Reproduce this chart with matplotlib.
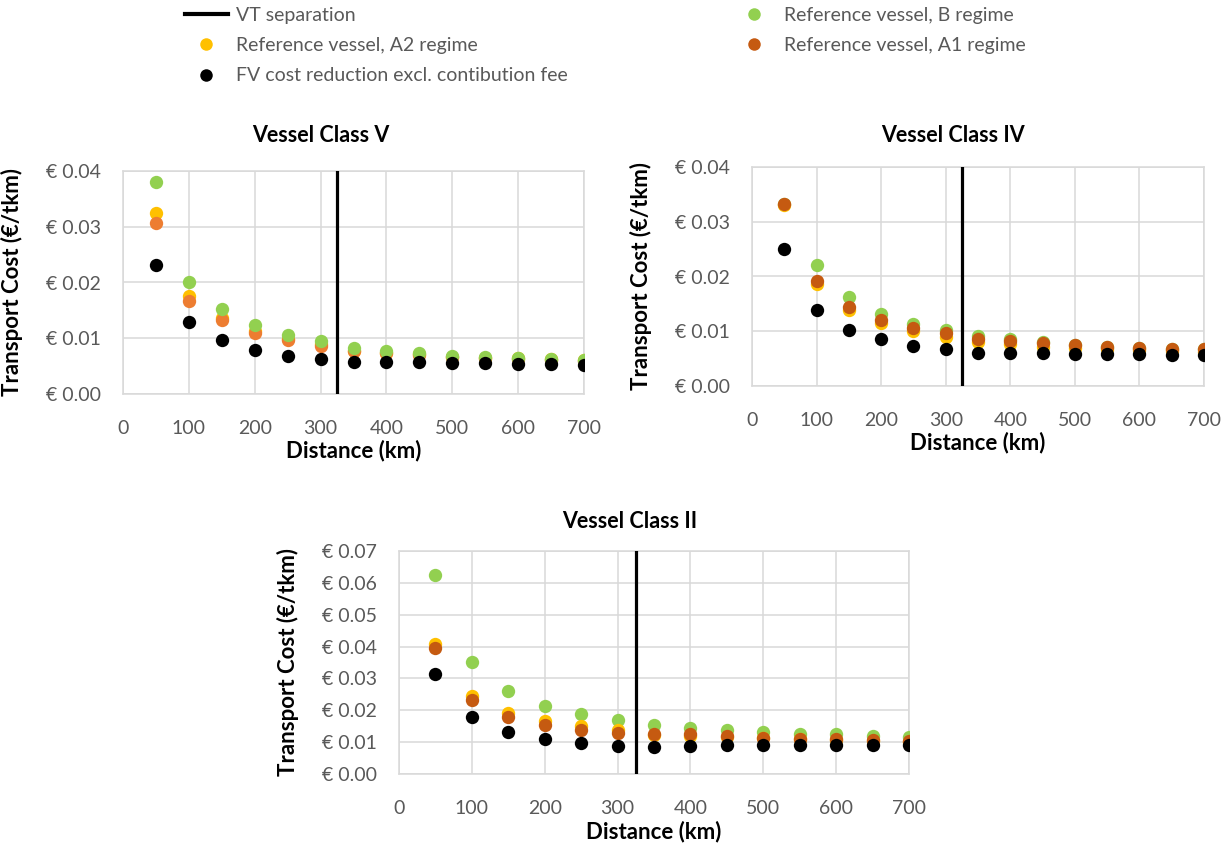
import numpy as np
import matplotlib.pyplot as plt
from matplotlib.lines import Line2D

plt.rcParams['font.family'] = ['Lato', 'DejaVu Sans']

distance = [50, 100, 150, 200, 250, 300, 350, 400, 450, 500, 550, 600, 650, 700]
vt_sep = 325

# Vessel Class V
v_b  = [0.0380, 0.0201, 0.0152, 0.0123, 0.0106, 0.0095, 0.0083, 0.0077, 0.0073, 0.0068, 0.0067, 0.0065, 0.0063, 0.0061]
v_a2 = [0.0324, 0.0176, 0.0137, 0.0113, 0.0098, 0.0089, 0.0078, 0.0074, 0.0071, 0.0067, 0.0065, 0.0064, 0.0062, 0.0061]
v_a1 = [0.0307, 0.0167, 0.0133, 0.0110, 0.0096, 0.0086, 0.0077, 0.0073, 0.0070, 0.0066, 0.0064, 0.0063, 0.0061, 0.0060]
v_fv = [0.0231, 0.0130, 0.0096, 0.0079, 0.0068, 0.0063, 0.0057, 0.0057, 0.0057, 0.0055, 0.0055, 0.0054, 0.0053, 0.0052]

# Vessel Class IV
iv_b  = [0.0332, 0.0221, 0.0162, 0.0132, 0.0114, 0.0103, 0.0091, 0.0085, 0.0080, 0.0074, 0.0072, 0.0070, 0.0068, 0.0067]
iv_a2 = [0.0330, 0.0187, 0.0138, 0.0115, 0.0100, 0.0090, 0.0080, 0.0076, 0.0072, 0.0069, 0.0067, 0.0065, 0.0064, 0.0063]
iv_a1 = [0.0332, 0.0191, 0.0144, 0.0120, 0.0106, 0.0097, 0.0086, 0.0082, 0.0078, 0.0074, 0.0072, 0.0070, 0.0068, 0.0067]
iv_fv = [0.0250, 0.0139, 0.0103, 0.0085, 0.0073, 0.0067, 0.0061, 0.0061, 0.0061, 0.0059, 0.0059, 0.0059, 0.0057, 0.0056]

# Vessel Class II
ii_b  = [0.0625, 0.0351, 0.0260, 0.0214, 0.0188, 0.0170, 0.0154, 0.0143, 0.0139, 0.0132, 0.0127, 0.0124, 0.0120, 0.0117]
ii_a2 = [0.0409, 0.0245, 0.0193, 0.0167, 0.0151, 0.0137, 0.0122, 0.0120, 0.0115, 0.0112, 0.0109, 0.0107, 0.0105, 0.0102]
ii_a1 = [0.0394, 0.0232, 0.0180, 0.0154, 0.0139, 0.0128, 0.0127, 0.0124, 0.0118, 0.0114, 0.0111, 0.0109, 0.0107, 0.0104]
ii_fv = [0.0315, 0.0179, 0.0133, 0.0111, 0.0097, 0.0089, 0.0086, 0.0089, 0.0092, 0.0092, 0.0092, 0.0092, 0.0092, 0.0092]

yticks_small = [0.0, 0.01, 0.02, 0.03, 0.04]
ylabels_small = ['€ 0.00', '€ 0.01', '€ 0.02', '€ 0.03', '€ 0.04']
yticks_big = [0.0, 0.01, 0.02, 0.03, 0.04, 0.05, 0.06, 0.07]
ylabels_big = ['€ 0.00', '€ 0.01', '€ 0.02', '€ 0.03', '€ 0.04', '€ 0.05', '€ 0.06', '€ 0.07']
xticks = [0, 100, 200, 300, 400, 500, 600, 700]

GREEN = '#92D050'
YELLOW = '#FFC000'
ORANGE_L = '#ED7D31'
ORANGE_D = '#C55A11'
GRID = '#D9D9D9'
TXT = '#595959'
MS = 9.6

fig = plt.figure(figsize=(12.31, 8.46), dpi=100)

def panel(rect, series, order, yt, yl, title, title_xy, ylab_x, xlab_y):
    ax = fig.add_axes(rect)
    for key in order:
        vals, col = series[key]
        ax.plot(distance, vals, 'o', color=col, markersize=MS, markeredgewidth=0, zorder=3)
    ax.axvline(vt_sep, color='black', lw=2.3, zorder=4)
    ax.set_xlim(0, 700)
    ax.set_ylim(yt[0], yt[-1])
    ax.set_xticks(xticks)
    ax.set_yticks(yt)
    ax.set_yticklabels(yl)
    ax.grid(True, color=GRID, lw=1.1, zorder=0)
    ax.set_axisbelow(True)
    for s in ax.spines.values():
        s.set_color(GRID)
        s.set_linewidth(1.1)
    ax.tick_params(length=0, labelsize=14, labelcolor=TXT)
    ax.tick_params(axis='y', pad=16)
    ax.tick_params(axis='x', pad=19)
    ax.set_xlabel('Distance (km)', fontsize=16, fontweight='bold')
    ax.xaxis.set_label_coords(0.5, xlab_y)
    ax.set_ylabel('Transport Cost (€/tkm)', fontsize=16, fontweight='bold')
    ax.yaxis.set_label_coords(ylab_x, 0.5)
    fig.text(title_xy[0], title_xy[1], title, ha='center', va='center',
             fontsize=15.5, fontweight='bold')
    return ax

panel([123/1231, 1 - 394/846, 461/1231, 223/846],
      {'b': (v_b, GREEN), 'a2': (v_a2, YELLOW), 'a1': (v_a1, ORANGE_L), 'fv': (v_fv, 'black')},
      ['a2', 'a1', 'b', 'fv'], yticks_small, ylabels_small,
      'Vessel Class V', (321/1231, 1 - 135/846), -0.218, -0.205)

panel([752/1231, 1 - 386/846, 452/1231, 219/846],
      {'b': (iv_b, GREEN), 'a2': (iv_a2, YELLOW), 'a1': (iv_a1, ORANGE_D), 'fv': (iv_fv, 'black')},
      ['b', 'a2', 'a1', 'fv'], yticks_small, ylabels_small,
      'Vessel Class IV', (953/1231, 1 - 135/846), -0.222, -0.207)

panel([399/1231, 1 - 774/846, 510/1231, 223/846],
      {'b': (ii_b, GREEN), 'a2': (ii_a2, YELLOW), 'a1': (ii_a1, ORANGE_D), 'fv': (ii_fv, 'black')},
      ['b', 'a2', 'a1', 'fv'], yticks_big, ylabels_big,
      'Vessel Class II', (630/1231, 1 - 521/846), -0.197, -0.207)

# legend
def dot(c):
    return Line2D([], [], ls='', marker='o', color=c, markersize=9, markeredgewidth=0)

h1 = [Line2D([], [], color='black', lw=3), dot(YELLOW), dot('black')]
l1 = ['VT separation', 'Reference vessel, A2 regime', 'FV cost reduction excl. contibution fee']
h2 = [dot(GREEN), dot(ORANGE_D)]
l2 = ['Reference vessel, B regime', 'Reference vessel, A1 regime']

leg_kw = dict(loc='upper left', frameon=False, fontsize=14, labelcolor=TXT,
              handlelength=2.2, handletextpad=0.4, labelspacing=0.68,
              borderpad=0, borderaxespad=0)
fig.legend(h1, l1, bbox_to_anchor=(185/1231, 1 - 7/846), **leg_kw)
fig.legend(h2, l2, bbox_to_anchor=(733/1231, 1 - 7/846), **leg_kw)

fig.savefig('out.png', dpi=100)
